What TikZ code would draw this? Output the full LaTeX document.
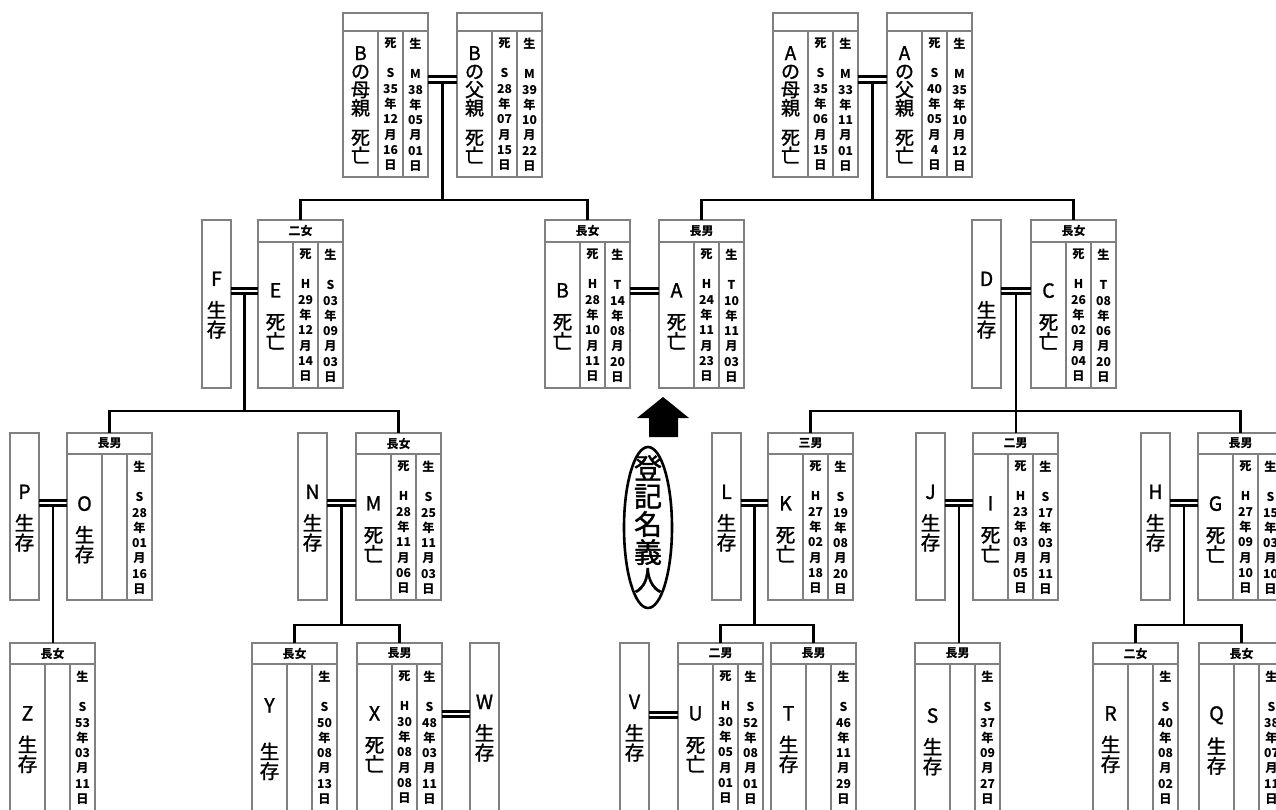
\documentclass[tikz,border=0pt]{standalone}
\usepackage{fontspec}
\setmainfont{Noto Sans CJK JP}
\newfontfamily\medfont{Noto Sans CJK JP}[FakeBold=1.3]
\usetikzlibrary{calc}
\def\cardH{164}
\def\hdrH{18}
\def\nameskip{\medfont\fontsize{19}{18.3}\selectfont}
\tikzset{
  cardbox/.style={draw=black!50, line width=1.2pt, minimum width=85pt, inner sep=0pt, outer sep=0pt},
  spbox/.style={draw=black!50, line width=1.2pt, minimum width=29pt, inner sep=0pt, outer sep=0pt},
  cline/.style={draw=black!50, line width=1.2pt},
  hdr/.style={font=\bfseries\fontsize{12}{12}\selectfont, inner sep=0pt},
  namecol/.style={font=\nameskip, align=center, inner sep=0pt, anchor=north},
  datecol/.style={font=\bfseries\fontsize{12.2}{15.3}\selectfont, align=center, inner sep=0pt, anchor=north},
  conn/.style={line width=2.6pt, black},
  dbl/.style={line width=3pt, black},
}
\newcommand{\dd}[4]{#1\\#2\\年\\#3\\月\\#4\\日}
% id, x, y, header, name text, first-name centre offset, death, birth
\newcommand{\card}[8]{%
  \node[cardbox, minimum height=\cardH pt, anchor=north west] (#1) at (#2,#3) {};
  \draw[cline] (#2,#3+\hdrH) -- (#2+85,#3+\hdrH);
  \draw[cline] (#2+35,#3+\hdrH) -- (#2+35,#3+\cardH);
  \draw[cline] (#2+60,#3+\hdrH) -- (#2+60,#3+\cardH);
  \node[hdr] (#1-h) at (#2+42.5,#3+\hdrH/2) {#4};
  \node[namecol] (#1-n) at (#2+17.5,#3+#6-7) {#5};
  \node[datecol] (#1-d) at (#2+47.5,#3+\hdrH+6.5) {#7};
  \node[datecol] (#1-b) at (#2+72.5,#3+\hdrH+6.5) {#8};
}
% id, x, y, text
\newcommand{\spouse}[4]{%
  \node[spbox, minimum height=\cardH pt, anchor=north west] (#1) at (#2,#3) {};
  \node[namecol] (#1-n) at (#2+14.5,#3+51.5) {#4};
}
% left, right, offset of upper line from top
\newcommand{\marry}[3]{%
  \draw[dbl] ($(#1.north east)+(0,#3)$) -- ($(#2.north west)+(0,#3)$);
  \draw[dbl] ($(#1.north east)+(0,#3+5.8)$) -- ($(#2.north west)+(0,#3+5.8)$);
  \coordinate (m-#2) at ($(#1.north east)!0.5!(#2.north west)+(0,#3+5.8)$);
}
\begin{document}
\begin{tikzpicture}[x=1pt,y=-1pt]
\useasboundingbox (0,0) rectangle (1276,810);
\fill[white] (0,0) rectangle (1276,810);
\clip (0,0) rectangle (1276,810);

% ---------- row 1 ----------
\def\cardH{164}\def\hdrH{18}\def\nameskip{\medfont\fontsize{19}{18.3}\selectfont}
\card{bm}{343}{13}{}{B\\の\\母\\親\\[11pt]死\\亡}{40}{死\\~\\\dd{S}{35}{12}{16}}{生\\~\\\dd{M}{38}{05}{01}}
\card{bf}{457}{13}{}{B\\の\\父\\親\\[11pt]死\\亡}{40}{死\\~\\\dd{S}{28}{07}{15}}{生\\~\\\dd{M}{39}{10}{22}}
\card{am}{773}{13}{}{A\\の\\母\\親\\[11pt]死\\亡}{40}{死\\~\\\dd{S}{35}{06}{15}}{生\\~\\\dd{M}{33}{11}{01}}
\card{af}{887}{13}{}{A\\の\\父\\親\\[11pt]死\\亡}{40}{死\\~\\\dd{S}{40}{05}{4}}{生\\~\\\dd{M}{35}{10}{12}}
\marry{bm}{bf}{64}
\marry{am}{af}{64}

% ---------- row 2 ----------
\def\cardH{168}\def\hdrH{22}\def\nameskip{\medfont\fontsize{19.5}{19.5}\selectfont}
\spouse{F}{202}{220}{F\\[12pt]生\\存}
\card{E}{258}{220}{二女}{E\\[12pt]死\\亡}{70}{死\\~\\\dd{H}{29}{12}{14}}{生\\~\\\dd{S}{03}{09}{03}}
\card{B}{545}{220}{長女}{B\\[12pt]死\\亡}{70}{死\\~\\\dd{H}{28}{10}{11}}{生\\~\\\dd{T}{14}{08}{20}}
\card{A}{659}{220}{長男}{A\\[12pt]死\\亡}{70}{死\\~\\\dd{H}{24}{11}{23}}{生\\~\\\dd{T}{10}{11}{03}}
\spouse{D}{972}{220}{D\\[12pt]生\\存}
\card{C}{1031}{220}{長女}{C\\[12pt]死\\亡}{70}{死\\~\\\dd{H}{26}{02}{04}}{生\\~\\\dd{T}{08}{06}{20}}
\marry{F}{E}{68}
\marry{B}{A}{68}
\marry{D}{C}{68}

% ---------- row 3 ----------
\def\cardH{167}\def\hdrH{21}
\spouse{P}{10}{433}{P\\[12pt]生\\存}
\card{O}{67}{433}{長男}{O\\[12pt]生\\存}{70}{}{生\\~\\\dd{S}{28}{01}{16}}
\spouse{N}{298}{433}{N\\[12pt]生\\存}
\card{M}{356}{433}{長女}{M\\[12pt]死\\亡}{70}{死\\~\\\dd{H}{28}{11}{06}}{生\\~\\\dd{S}{25}{11}{03}}
\spouse{L}{712}{433}{L\\[12pt]生\\存}
\card{K}{768}{433}{三男}{K\\[12pt]死\\亡}{70}{死\\~\\\dd{H}{27}{02}{18}}{生\\~\\\dd{S}{19}{08}{20}}
\spouse{J}{916}{433}{J\\[12pt]生\\存}
\card{I}{973}{433}{二男}{I\\[12pt]死\\亡}{70}{死\\~\\\dd{H}{23}{03}{05}}{生\\~\\\dd{S}{17}{03}{11}}
\spouse{H}{1141}{433}{H\\[12pt]生\\存}
\card{G}{1198}{433}{長男}{G\\[12pt]死\\亡}{70}{死\\~\\\dd{H}{27}{09}{10}}{生\\~\\\dd{S}{15}{03}{10}}
\marry{P}{O}{67}
\marry{N}{M}{67}
\marry{L}{K}{67}
\marry{J}{I}{67}
\marry{H}{G}{67}

% ---------- row 4 ----------
\def\cardH{172}\def\hdrH{21}
\card{Z}{10}{643}{長女}{Z\\[12pt]生\\存}{70}{}{生\\~\\\dd{S}{53}{03}{11}}
\card{Y}{252}{643}{長女}{Y\\[27pt]生\\存}{62}{}{生\\~\\\dd{S}{50}{08}{13}}
\card{X}{357}{643}{長男}{X\\[12pt]死\\亡}{70}{死\\~\\\dd{H}{30}{08}{08}}{生\\~\\\dd{S}{48}{03}{11}}
\spouse{W}{470}{643}{W\\[12pt]生\\存}
\spouse{V}{620}{643}{V\\[12pt]生\\存}
\card{U}{678}{643}{二男}{U\\[12pt]死\\亡}{70}{死\\~\\\dd{H}{30}{05}{01}}{生\\~\\\dd{S}{52}{08}{01}}
\card{T}{771}{643}{長男}{T\\[12pt]生\\存}{70}{}{生\\~\\\dd{S}{46}{11}{29}}
\card{S}{915}{643}{長男}{S\\[12pt]生\\存}{72}{}{生\\~\\\dd{S}{37}{09}{27}}
\card{R}{1093}{643}{二女}{R\\[12pt]生\\存}{70}{}{生\\~\\\dd{S}{40}{08}{02}}
\card{Q}{1199}{643}{長女}{Q\\[12pt]生\\存}{70}{}{生\\~\\\dd{S}{38}{07}{11}}
\marry{X}{W}{68}
\marry{V}{U}{69}

% ---------- connectors ----------
\coordinate (h1) at (0,200);
\coordinate (h2) at (0,411);
\coordinate (h3) at (0,625);
\draw[conn] (m-bf) -- (m-bf |- h1);
\draw[conn] (E.north) |- (m-bf |- h1) -| (B.north);
\draw[conn] (m-af) -- (m-af |- h1);
\draw[conn] (A.north) |- (m-af |- h1) -| (C.north);

\draw[conn] (m-E) -- (m-E |- h2);
\draw[conn] (O.north) |- (m-E |- h2) -| (M.north);
\draw[conn] (m-C) -- (m-C |- I.north);
\draw[conn] (K.north) |- (m-C |- h2) -| (G.north);

\draw[conn] (m-O) -- (m-O |- Z.north);
\draw[conn] (m-M) -- (m-M |- h3);
\draw[conn] (Y.north) |- (m-M |- h3) -| (X.north);
\draw[conn] (m-K) -- (m-K |- h3);
\draw[conn] (U.north) |- (m-K |- h3) -| (T.north);
\draw[conn] (m-I) -- (m-I |- S.north);
\draw[conn] (m-G) -- (m-G |- h3);
\draw[conn] (R.north) |- (m-G |- h3) -| (Q.north);

% ---------- registered owner marker ----------
\fill[black] (663,397) -- (689,418) -- (678,418) -- (678,437) -- (649,437) -- (649,418) -- (637,418) -- cycle;
\draw[line width=2.6pt] (648,527.5) ellipse [x radius=24, y radius=80.5];
\node[font=\medfont\fontsize{28}{28}\selectfont, align=center, inner sep=0pt] (meigi) at (648,524) {登\\記\\名\\義\\人};
\end{tikzpicture}
\end{document}
